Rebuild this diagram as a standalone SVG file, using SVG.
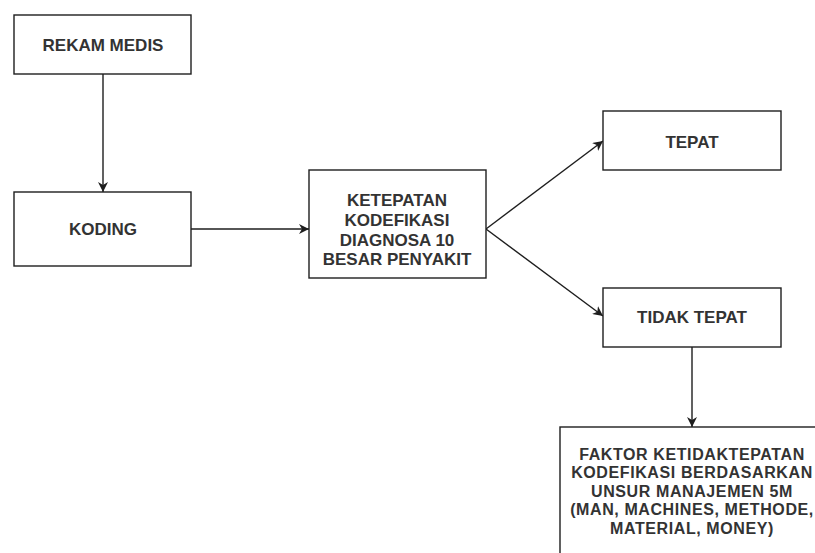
<svg xmlns="http://www.w3.org/2000/svg" width="815" height="553" viewBox="0 0 815 553">
<style>
.box{fill:#fff;stroke:#1e1e1e;stroke-width:1.4}
.t{font-family:"Liberation Sans",Arial,sans-serif;font-size:17px;font-weight:bold;fill:#333;text-anchor:middle;dominant-baseline:central}
.f{font-size:16px;letter-spacing:0.6px}
.c{fill:none;stroke:#1e1e1e;stroke-width:1.4}
</style>
<defs>
<marker id="ah" viewBox="0 0 10 10" refX="10" refY="5" markerWidth="10" markerHeight="10" markerUnits="userSpaceOnUse" orient="auto">
<path d="M0,0 L10,5 L0,10 L3,5 Z" fill="#1e1e1e"/>
</marker>
</defs>
<rect width="815" height="553" fill="#fff"/>
<g id="connectors">
<line class="c" x1="103" y1="74" x2="103" y2="192" marker-end="url(#ah)"/>
<line class="c" x1="191" y1="229" x2="309" y2="229" marker-end="url(#ah)"/>
<line class="c" x1="486" y1="229" x2="603" y2="141" marker-end="url(#ah)"/>
<line class="c" x1="486" y1="229" x2="603" y2="316" marker-end="url(#ah)"/>
<line class="c" x1="692" y1="347" x2="692" y2="427" marker-end="url(#ah)"/>
</g>
<g id="rekam-medis">
<rect class="box" x="14" y="15" width="177" height="59"/>
<text class="t" x="103" y="45">REKAM MEDIS</text>
</g>
<g id="koding">
<rect class="box" x="14" y="192" width="177" height="74"/>
<text class="t" x="103" y="229">KODING</text>
</g>
<g id="ketepatan">
<rect class="box" x="309" y="170" width="177" height="108"/>
<text class="t" x="397" y="200">KETEPATAN</text>
<text class="t" x="397" y="220">KODEFIKASI</text>
<text class="t" x="397" y="240">DIAGNOSA 10</text>
<text class="t" x="397" y="259">BESAR PENYAKIT</text>
</g>
<g id="tepat">
<rect class="box" x="603" y="111" width="178" height="59"/>
<text class="t" x="692" y="142">TEPAT</text>
</g>
<g id="tidak-tepat">
<rect class="box" x="603" y="288" width="178" height="59"/>
<text class="t" x="692" y="317">TIDAK TEPAT</text>
</g>
<g id="faktor">
<rect class="box" x="560" y="427" width="264" height="140"/>
<text class="t f" x="692" y="454">FAKTOR KETIDAKTEPATAN</text>
<text class="t f" x="692" y="472.5">KODEFIKASI BERDASARKAN</text>
<text class="t f" x="692" y="491">UNSUR MANAJEMEN 5M</text>
<text class="t f" x="692" y="509.5">(MAN, MACHINES, METHODE,</text>
<text class="t f" x="692" y="528">MATERIAL, MONEY)</text>
</g>
</svg>
